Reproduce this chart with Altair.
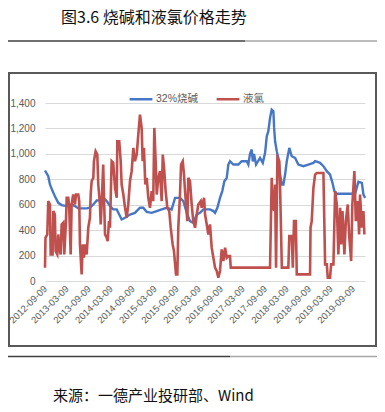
import altair as alt
import pandas as pd

# ---- data (decimal year, value) ----
soda_name = "32%烧碱"
chlorine_name = "液氯"

soda_t = [2012.690, 2012.765, 2012.804, 2012.865, 2012.917, 2012.992, 2013.070, 2013.183,
          2013.297, 2013.372, 2013.447, 2013.638, 2013.713, 2013.788, 2013.865, 2013.940,
          2014.015, 2014.092, 2014.167, 2014.242, 2014.320, 2014.433, 2014.508, 2014.622,
          2014.735, 2014.849, 2014.924, 2015.001, 2015.115, 2015.229, 2015.342, 2015.456,
          2015.570, 2015.645, 2015.758, 2015.833, 2015.910, 2015.985, 2016.060, 2016.138,
          2016.213, 2016.288, 2016.440, 2016.515, 2016.554, 2016.606, 2016.667, 2016.720,
          2016.765, 2016.820, 2016.856, 2016.895, 2016.970, 2017.083, 2017.160, 2017.274,
          2017.310, 2017.349, 2017.388, 2017.410, 2017.440, 2017.485, 2017.576, 2017.638,
          2017.690, 2017.729, 2017.765, 2017.804, 2017.842, 2017.879, 2017.895, 2017.917,
          2017.956, 2017.992, 2018.031, 2018.070, 2018.106, 2018.145, 2018.183, 2018.242,
          2018.297, 2018.372, 2018.447, 2018.560, 2018.674, 2018.788, 2018.826, 2018.940,
          2019.015, 2019.092, 2019.167, 2019.220, 2019.265, 2019.320, 2019.735, 2019.810,
          2019.888, 2019.924, 2019.963]
soda_v = [869, 824, 759, 707, 667, 615, 597, 589,
          602, 589, 571, 571, 576, 602, 633, 633,
          654, 628, 590, 563, 563, 484, 497, 523,
          536, 576, 576, 544, 536, 550, 563, 576,
          563, 654, 654, 628, 536, 471, 458, 523,
          536, 563, 563, 550, 536, 576, 654, 707,
          785, 811, 916, 942, 916, 916, 942, 942,
          916, 1000, 1034, 940, 1000, 916, 968, 929,
          1008, 1138, 1178, 1282, 1348, 1335, 1204, 1099,
          1021, 968, 837, 759, 759, 837, 942, 1047,
          981, 968, 916, 903, 916, 929, 942, 929,
          903, 864, 837, 772, 707, 686, 686, 780,
          772, 680, 654]

chlorine_t = [2012.690, 2012.701, 2012.742, 2012.765, 2012.804, 2012.820, 2012.865, 2012.879,
              2012.917, 2012.933, 2012.970, 2012.992, 2013.015, 2013.047, 2013.070, 2013.106,
              2013.129, 2013.167, 2013.183, 2013.220, 2013.242, 2013.274, 2013.297, 2013.333,
              2013.372, 2013.395, 2013.447, 2013.470, 2013.485, 2013.524, 2013.547, 2013.576,
              2013.599, 2013.638, 2013.674, 2013.713, 2013.729, 2013.751, 2013.788, 2013.804,
              2013.842, 2013.879, 2013.901, 2013.940, 2013.956, 2013.979, 2014.015, 2014.031,
              2014.054, 2014.092, 2014.115, 2014.145, 2014.167, 2014.206, 2014.242, 2014.281,
              2014.320, 2014.333, 2014.379, 2014.410, 2014.433, 2014.470, 2014.508, 2014.547,
              2014.583, 2014.622, 2014.660, 2014.697, 2014.735, 2014.774, 2014.810, 2014.849,
              2014.888, 2014.910, 2014.940, 2014.970, 2015.001, 2015.038, 2015.076, 2015.115,
              2015.151, 2015.174, 2015.206, 2015.229, 2015.265, 2015.304, 2015.342, 2015.365,
              2015.395, 2015.433, 2015.470, 2015.515, 2015.547, 2015.592, 2015.622, 2015.667,
              2015.697, 2015.720, 2015.758, 2015.781, 2015.820, 2015.849, 2015.872, 2015.895,
              2015.924, 2015.947, 2015.985, 2016.024, 2016.060, 2016.099, 2016.138, 2016.174,
              2016.229, 2016.251, 2016.304, 2016.326, 2016.365, 2016.401, 2016.440, 2016.479,
              2016.515, 2016.554, 2016.592, 2016.629, 2016.667, 2016.706, 2016.742, 2016.781,
              2016.820, 2016.856, 2016.895, 2016.910, 2017.804, 2017.842, 2017.865, 2017.895,
              2017.917, 2017.940, 2017.970, 2018.015, 2018.031, 2018.070, 2018.220, 2018.242,
              2018.297, 2018.320, 2018.349, 2018.388, 2018.410, 2018.713, 2018.724, 2018.751,
              2018.788, 2018.826, 2018.865, 2019.015, 2019.054, 2019.092, 2019.115, 2019.167,
              2019.190, 2019.242, 2019.281, 2019.320, 2019.356, 2019.395, 2019.417, 2019.447,
              2019.492, 2019.524, 2019.570, 2019.599, 2019.645, 2019.674, 2019.720, 2019.751,
              2019.797, 2019.826, 2019.849, 2019.888, 2019.924, 2019.947]
chlorine_v = [105, 340, 366, 628, 602, 209, 209, 550,
              523, 235, 209, 366, 262, 209, 445, 458,
              209, 471, 654, 654, 576, 209, 602, 680,
              602, 680, 680, 628, 288, 52, 288, 183,
              288, 209, 419, 497, 680, 785, 811, 942,
              1020, 994, 759, 602, 445, 602, 916, 680,
              366, 340, 314, 471, 419, 942, 929, 733,
              654, 1099, 1099, 942, 759, 680, 576, 497,
              602, 785, 864, 1047, 942, 994, 1151, 1308,
              1204, 942, 1047, 759, 811, 654, 576, 707,
              628, 1204, 942, 680, 811, 864, 628, 994,
              890, 707, 576, 550, 419, 288, 235, 52,
              52, 419, 680, 916, 942, 837, 707, 602,
              471, 811, 785, 602, 471, 419, 523, 602,
              628, 576, 654, 523, 445, 366, 445, 262,
              183, 105, 79, 26, 79, 249, 157, 262,
              183, 196, 196, 105, 105, 811, 602, 550,
              759, 105, 968, 942, 759, 105, 105, 353,
              353, 105, 471, 471, 52, 52, 419, 471,
              733, 837, 850, 850, 131, 131, 26, 26,
              131, 131, 707, 602, 209, 576, 288, 550,
              209, 471, 602, 366, 157, 602, 864, 471,
              628, 366, 680, 419, 550, 366]

tick_labels = ["2012-09-09", "2013-03-09", "2013-09-09", "2014-03-09", "2014-09-09",
               "2015-03-09", "2015-09-09", "2016-03-09", "2016-09-09", "2017-03-09",
               "2017-09-09", "2018-03-09", "2018-09-09", "2019-03-09", "2019-09-09"]
y_ticks = [0, 200, 400, 600, 800, 1000, 1200, 1400]


def to_date(t):
    d = pd.Timestamp("2012-01-01") + pd.to_timedelta((t - 2012) * 365.25, unit="D")
    return d.strftime("%Y-%m-%d")


soda_df = pd.DataFrame({"date": [to_date(t) for t in soda_t], "value": soda_v,
                        "series": soda_name})
cl_df = pd.DataFrame({"date": [to_date(t) for t in chlorine_t], "value": chlorine_v,
                      "series": chlorine_name})

BLUE = "#4677c6"
RED = "#c0504d"
FONT = "Liberation Sans, Noto Sans CJK SC"
CJK = "Noto Sans CJK SC"


def dt(s):
    y, m, d = (int(p) for p in s.split("-"))
    return alt.DateTime(year=y, month=m, date=d, utc=True)


x_enc = alt.X(
    "date:T",
    scale=alt.Scale(type="utc", domain=[dt("2012-09-09"), dt("2019-12-17")]),
    axis=alt.Axis(values=[dt(s) for s in tick_labels], format="%Y-%m-%d",
                  labelAngle=-45, labelAlign="right", labelBaseline="middle",
                  labelFontSize=9.5, labelColor="#595959", labelFont=FONT,
                  labelPadding=6, labelOverlap=False, labelFlush=False,
                  grid=False, ticks=False, domain=False, title=None),
)
y_enc = alt.Y(
    "value:Q",
    scale=alt.Scale(domain=[0, 1400], nice=False),
    axis=alt.Axis(values=y_ticks, format=",.0f", labelFontSize=10, labelColor="#595959",
                  labelFont=FONT, labelPadding=10, grid=True, gridColor="#d9d9d9",
                  gridWidth=1, domain=False, ticks=False, title=None),
)
color_enc = alt.Color(
    "series:N",
    scale=alt.Scale(domain=[soda_name, chlorine_name], range=[BLUE, RED]),
    legend=alt.Legend(orient="none", legendX=83, legendY=-17, direction="horizontal",
                      title=None, symbolType="stroke", symbolSize=520,
                      symbolStrokeWidth=2.5, labelFontSize=10.5, labelColor="#595959",
                      labelFont=FONT, columnPadding=12, labelOffset=2),
)

soda_line = alt.Chart(soda_df).mark_line(strokeWidth=2.4).encode(
    x=x_enc, y=y_enc, color=color_enc)
cl_line = alt.Chart(cl_df).mark_line(strokeWidth=2.6).encode(
    x=x_enc, y=y_enc, color=color_enc)

one = alt.Data(values=[{}])
doc_title = alt.Chart(one).mark_text(
    text="图3.6  烧碱和液氯价格走势", align="left", baseline="middle",
    fontSize=16, font=CJK, fontWeight="normal", color="#111111").encode(
    x=alt.value(16), y=alt.value(-85))
top_rule_dark = alt.Chart(one).mark_rule(color="#404040", strokeWidth=1.6).encode(
    x=alt.value(-37), x2=alt.value(200), y=alt.value(-62))
top_rule_light = alt.Chart(one).mark_rule(color="#a6a6a6", strokeWidth=1.6).encode(
    x=alt.value(200), x2=alt.value(332), y=alt.value(-62))
box = alt.Chart(one).mark_rect(fill=None, stroke="#595959", strokeWidth=2).encode(
    x=alt.value(-36), x2=alt.value(331), y=alt.value(-30), y2=alt.value(243))
bot_rule_dark = alt.Chart(one).mark_rule(color="#404040", strokeWidth=1.6).encode(
    x=alt.value(-37), x2=alt.value(185), y=alt.value(253.5))
bot_rule_light = alt.Chart(one).mark_rule(color="#a6a6a6", strokeWidth=1.6).encode(
    x=alt.value(185), x2=alt.value(332), y=alt.value(253.5))
source = alt.Chart(one).mark_text(
    text="来源：一德产业投研部、Wind", align="left", baseline="middle",
    fontSize=15, font=CJK, fontWeight="normal", color="#111111").encode(
    x=alt.value(8), y=alt.value(293))

chart = alt.layer(
    box, soda_line, cl_line, doc_title, top_rule_dark, top_rule_light,
    bot_rule_dark, bot_rule_light, source,
).properties(
    width=320, height=178,
    autosize=alt.AutoSizeParams(type="none"),
    padding={"left": 37, "top": 95, "right": 12, "bottom": 123},
    background="white",
).configure_view(stroke=None)

chart.save("out.html", embed_options={"renderer": "svg", "actions": False})
